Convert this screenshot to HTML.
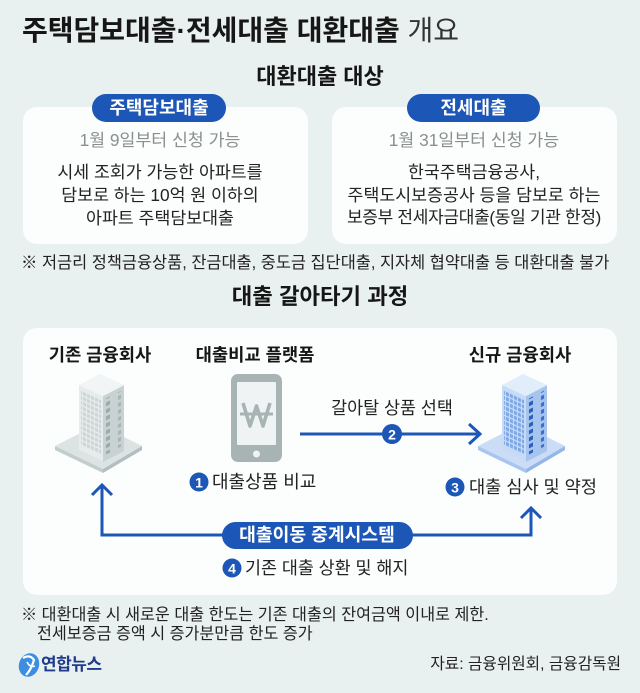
<!DOCTYPE html>
<html><head><meta charset="utf-8">
<style>
html,body{margin:0;padding:0}
body{width:640px;height:693px;background:#e9f1f0;position:relative;overflow:hidden;font-family:"Liberation Sans","Noto Sans CJK KR",sans-serif;color:#1e1e1e}
.t{position:absolute;white-space:nowrap}
.c{text-align:center}
.card{position:absolute;background:#fcfdfd;border-radius:14px}
.badge{position:absolute;background:#1c56b6;color:#fff;font-weight:bold;font-size:18px;line-height:28px;height:28px;border-radius:14px;text-align:center}
</style></head>
<body>

<div class="t" style="left:22px;top:14px;font-size:28px;line-height:34px;font-weight:bold;color:#161616">주택담보대출·전세대출 대환대출 <span style="font-weight:normal;color:#333">개요</span></div>

<div class="t c" style="left:120px;width:400px;top:63px;font-size:22px;line-height:28px;font-weight:bold;color:#161616">대환대출 대상</div>

<div class="card" style="left:23px;top:107px;width:285px;height:137px"></div>
<div class="card" style="left:332px;top:107px;width:285px;height:137px"></div>

<div class="badge" style="left:92px;top:94px;width:134px">주택담보대출</div>
<div class="badge" style="left:407px;top:94px;width:133px">전세대출</div>

<div class="t c" style="left:10px;width:300px;top:128px;font-size:17.3px;line-height:24px;color:#8a8f90">1월 9일부터 신청 가능</div>
<div class="t c" style="left:10px;width:300px;top:160px;font-size:17.3px;line-height:24px;color:#222">시세 조회가 가능한 아파트를</div>
<div class="t c" style="left:10px;width:300px;top:183px;font-size:17.3px;line-height:24px;color:#222">담보로 하는 10억 원 이하의</div>
<div class="t c" style="left:10px;width:300px;top:206px;font-size:17.3px;line-height:24px;color:#222">아파트 주택담보대출</div>

<div class="t c" style="left:324px;width:300px;top:128px;font-size:17.3px;line-height:24px;color:#8a8f90">1월 31일부터 신청 가능</div>
<div class="t c" style="left:324px;width:300px;top:160px;font-size:17.3px;line-height:24px;color:#222">한국주택금융공사,</div>
<div class="t c" style="left:324px;width:300px;top:183px;font-size:17.3px;line-height:24px;color:#222">주택도시보증공사 등을 담보로 하는</div>
<div class="t c" style="left:324px;width:300px;top:206px;font-size:17px;line-height:24px;color:#222;letter-spacing:-0.3px">보증부 전세자금대출(동일 기관 한정)</div>

<div class="t" style="left:21px;top:251px;font-size:16.4px;line-height:24px;color:#222">※ 저금리 정책금융상품, 잔금대출, 중도금 집단대출, 지자체 협약대출 등 대환대출 불가</div>

<div class="t c" style="left:120px;width:400px;top:283px;font-size:22.3px;line-height:28px;font-weight:bold;color:#161616">대출 갈아타기 과정</div>

<div class="card" style="left:23px;top:328px;width:594px;height:267px"></div>

<div class="t c" style="left:0px;width:200px;top:343px;font-size:17.7px;line-height:24px;font-weight:bold;color:#161616">기존 금융회사</div>
<div class="t c" style="left:155px;width:200px;top:343px;font-size:17.7px;line-height:24px;font-weight:bold;color:#161616">대출비교 플랫폼</div>
<div class="t c" style="left:420px;width:200px;top:343px;font-size:17.7px;line-height:24px;font-weight:bold;color:#161616">신규 금융회사</div>

<svg style="position:absolute;left:0;top:0" width="640" height="693" viewBox="0 0 640 693">
<defs>
<pattern id="wlg" width="4" height="5" patternUnits="userSpaceOnUse"><rect x="0" y="0" width="3" height="3.6" fill="#cdd6d6"/></pattern>
<pattern id="wrg" width="21" height="7" patternUnits="userSpaceOnUse"><rect x="3" y="1" width="4" height="4" fill="#9eaaaa"/><rect x="15" y="1" width="3" height="4" fill="#a9b4b4"/></pattern>
<pattern id="wlb" width="4" height="5" patternUnits="userSpaceOnUse"><rect x="0" y="0" width="3" height="3.6" fill="#7ea9e6"/></pattern>
<pattern id="wrb" width="21" height="7" patternUnits="userSpaceOnUse"><rect x="3" y="1" width="4" height="4" fill="#2c5fc2"/><rect x="15" y="1" width="3" height="4" fill="#3a6ccb"/></pattern>
</defs>

<!-- left building -->
<g>
<polygon points="55,446 98,424 142,446 103,469" fill="#dbe3e3"/>
<polygon points="55,446 103,469 103,473 55,450" fill="#c3cdcd"/>
<polygon points="103,469 142,446 142,450 103,473" fill="#b3bebe"/>
<g transform="matrix(1,0.46,0,1,79,385)"><rect width="24" height="65" fill="#e6ecec"/><rect x="2" y="4" width="20" height="56" fill="url(#wlg)"/></g>
<g transform="matrix(1,-0.52,0,1,103,396)"><rect width="21" height="66" fill="#c9d2d2"/><rect x="0" y="4" width="21" height="56" fill="url(#wrg)"/></g>
<polygon points="79,385 100,374 124,385 103,396" fill="#f1f5f5"/>
</g>

<!-- right building -->
<g transform="translate(423,0)">
<polygon points="55,446 98,424 142,446 103,469" fill="#cbddf6"/>
<polygon points="55,446 103,469 103,473 55,450" fill="#a9c6ee"/>
<polygon points="103,469 142,446 142,450 103,473" fill="#94b6e8"/>
<g transform="matrix(1,0.46,0,1,79,385)"><rect width="24" height="65" fill="#c8dbf5"/><rect x="2" y="4" width="20" height="56" fill="url(#wlb)"/></g>
<g transform="matrix(1,-0.52,0,1,103,396)"><rect width="21" height="66" fill="#a6c4ee"/><rect x="0" y="4" width="21" height="56" fill="url(#wrb)"/></g>
<polygon points="79,385 100,374 124,385 103,396" fill="#e2edfb"/>
</g>

<!-- phone -->
<rect x="231" y="374" width="51" height="88" rx="7" fill="#a8b3b3"/>
<rect x="237" y="382" width="39" height="63" rx="1" fill="#f0f3f3"/>
<circle cx="256.5" cy="454" r="3.5" fill="#f0f3f3"/>
<polyline points="243,403 250,426 256.5,406 263,426 270,403" fill="none" stroke="#a8b3b3" stroke-width="3.6" stroke-linejoin="round"/>
<line x1="240" y1="414" x2="273" y2="414" stroke="#a8b3b3" stroke-width="3"/>

<!-- arrow 2 -->
<line x1="300" y1="434" x2="479" y2="434" stroke="#1c56b6" stroke-width="3"/>
<polyline points="469,424 480,434 469,444" fill="none" stroke="#1c56b6" stroke-width="3"/>
<circle cx="392" cy="434" r="10" fill="#1c56b6"/>
<text x="392" y="439.5" text-anchor="middle" font-size="14" font-weight="bold" fill="#fff" font-family="Liberation Sans, sans-serif">2</text>

<!-- bottom arrows -->
<polyline points="230,535 102,535 102,486" fill="none" stroke="#1c56b6" stroke-width="3"/>
<polyline points="92,495 102,485 112,495" fill="none" stroke="#1c56b6" stroke-width="3"/>
<polyline points="405,535 531,535 531,509" fill="none" stroke="#1c56b6" stroke-width="3"/>
<polyline points="521,518 531,508 541,518" fill="none" stroke="#1c56b6" stroke-width="3"/>
<rect x="222" y="522" width="191" height="27" rx="13.5" fill="#1c56b6"/>

<!-- numbered circles -->
<circle cx="199" cy="482" r="9.5" fill="#1c56b6"/>
<text x="199" y="487.5" text-anchor="middle" font-size="14" font-weight="bold" fill="#fff" font-family="Liberation Sans, sans-serif">1</text>
<circle cx="455" cy="487" r="9.5" fill="#1c56b6"/>
<text x="455" y="492.5" text-anchor="middle" font-size="14" font-weight="bold" fill="#fff" font-family="Liberation Sans, sans-serif">3</text>
<circle cx="232" cy="568" r="9.5" fill="#1c56b6"/>
<text x="232" y="573.5" text-anchor="middle" font-size="14" font-weight="bold" fill="#fff" font-family="Liberation Sans, sans-serif">4</text>

<!-- logo -->
<ellipse cx="29" cy="665" rx="10" ry="12" fill="#3d8ee0" transform="rotate(20 29 665)"/>
<path d="M23,658 Q30,654 34,660 Q31,670 26,675" fill="none" stroke="#fff" stroke-width="2.2"/>
<path d="M27,662 Q30,668 35,666" fill="none" stroke="#fff" stroke-width="1.6"/>
</svg>

<div class="t c" style="left:292px;width:200px;top:396px;font-size:17.4px;line-height:24px;color:#222">갈아탈 상품 선택</div>
<div class="t" style="left:212px;top:470px;font-size:18px;line-height:24px;color:#222">대출상품 비교</div>
<div class="t" style="left:469px;top:475px;font-size:17.6px;line-height:24px;color:#222">대출 심사 및 약정</div>
<div class="t c" style="left:217px;width:200px;top:523px;font-size:18.2px;line-height:24px;font-weight:bold;color:#fff">대출이동 중계시스템</div>
<div class="t" style="left:245px;top:556px;font-size:17.4px;line-height:24px;color:#222">기존 대출 상환 및 해지</div>

<div class="t" style="left:21px;top:603px;font-size:16.2px;line-height:24px;color:#222">※ 대환대출 시 새로운 대출 한도는 기존 대출의 잔여금액 이내로 제한.</div>
<div class="t" style="left:37px;top:622px;font-size:16.2px;line-height:24px;color:#222">전세보증금 증액 시 증가분만큼 한도 증가</div>

<div class="t" style="left:41px;top:653px;font-size:17px;line-height:24px;font-weight:bold;color:#1f3c8c;letter-spacing:-0.5px">연합뉴스</div>
<div class="t" style="right:19px;top:653px;font-size:15.7px;line-height:24px;color:#222">자료: 금융위원회, 금융감독원</div>

</body></html>
